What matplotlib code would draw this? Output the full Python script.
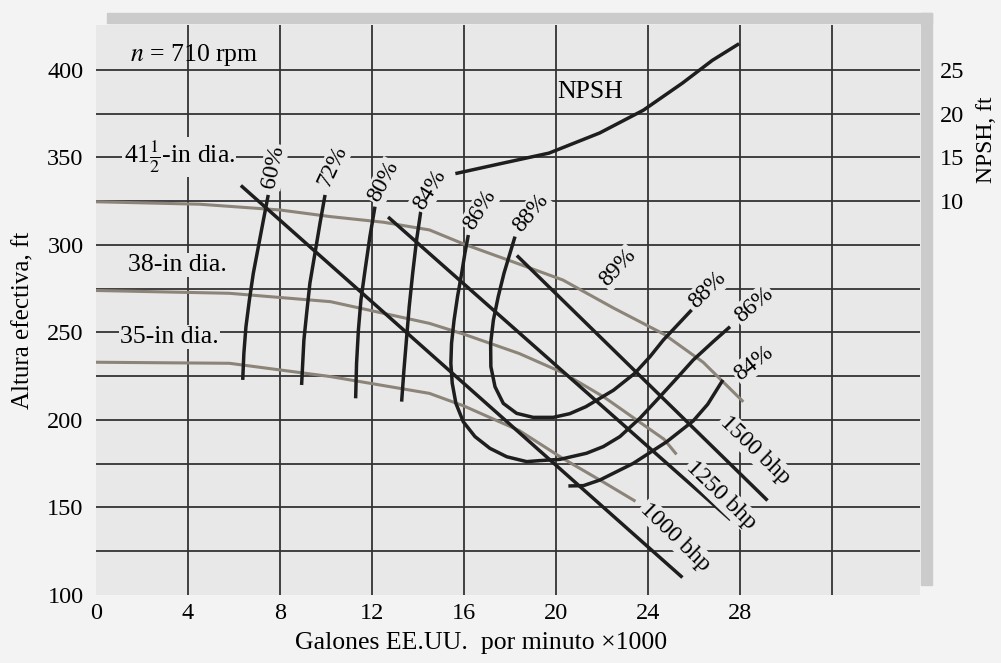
import matplotlib.pyplot as plt
from matplotlib.patches import Rectangle

plt.rcParams['font.family'] = ['Liberation Serif', 'DejaVu Serif']
plt.rcParams['mathtext.fontset'] = 'stix'

# flow in 1000 gal/min, head in ft
# head curves for the three impeller diameters
q_d415 = [0, 4.5, 8, 10.2, 12.5, 14.5, 16, 18, 20.3, 22.5, 24.7, 26.4, 28.1]
h_d415 = [324.7, 323.3, 320, 316.2, 313, 308.6, 300.5, 291, 280, 264, 249, 233, 211]
q_d38 = [0, 5.8, 10.2, 14.5, 16, 18.4, 20.3, 22.1, 24.7, 25.2]
h_d38 = [274, 272.4, 267.6, 255.2, 249, 238, 227, 213, 189, 181]
q_d35 = [0, 5.8, 10.2, 14.5, 16, 18.4, 20.3, 22.0, 23.4]
h_d35 = [233, 232.4, 224.8, 215.2, 208, 194, 178, 165, 154]

# efficiency contours
q_e60 = [7.49, 7.28, 7.06, 6.84, 6.67, 6.52, 6.43, 6.38]
h_e60 = [328.6, 314.3, 299.0, 283.8, 268.6, 253.3, 238.1, 222.9]
q_e72 = [9.96, 9.74, 9.52, 9.30, 9.16, 9.04, 8.94]
h_e72 = [328.6, 312.4, 295.2, 278.1, 261.0, 245.7, 220.0]
q_e80 = [12.13, 11.91, 11.70, 11.52, 11.41, 11.33, 11.29]
h_e80 = [321.9, 304.8, 285.7, 268.6, 251.4, 232.4, 212.4]
q_e84a = [14.12, 13.94, 13.77, 13.62, 13.51, 13.39, 13.29]
h_e84a = [319.0, 302.9, 283.8, 264.8, 247.6, 228.6, 210.5]
q_e84b = [20.54, 21.2, 21.91, 23.36, 24.81, 25.97, 26.6, 27.26]
h_e84b = [162.3, 162.5, 165.7, 175.2, 187.5, 199.5, 209.0, 222.9]
q_e86 = [16.19, 16.04, 15.90, 15.72, 15.57, 15.46, 15.43, 15.49, 15.65, 15.97, 16.48, 17.13,
         17.86, 18.73, 19.30, 20.17, 21.33, 22.06, 22.78, 23.65, 24.52, 25.25, 25.97, 26.84, 27.57]
h_e86 = [305.7, 295.2, 283.8, 270.5, 257.1, 243.8, 232.4, 221.0, 209.5, 199.0, 190.5, 183.8,
         179.0, 176.2, 176.8, 177.5, 181.0, 184.8, 190.5, 201.0, 213.3, 223.8, 234.3, 244.8, 253.3]
q_e88 = [18.22, 18.0, 17.74, 17.49, 17.28, 17.16, 17.17, 17.35, 17.71, 18.29, 19.01, 19.88,
         20.6, 21.3, 22.5, 23.43, 24.09, 24.67, 25.9]
h_e88 = [304.8, 295.2, 283.8, 270.5, 257.1, 243.8, 230.5, 219.0, 209.5, 203.8, 201.5, 201.5,
         203.6, 207.6, 217.0, 226.7, 236.2, 245.7, 262.9]

# brake horsepower lines
q_bhp1000 = [6.3, 25.5]
h_bhp1000 = [334, 110]
q_bhp1250 = [12.7, 27.6]
h_bhp1250 = [316, 143]
q_bhp1500 = [18.3, 29.2]
h_bhp1500 = [294, 154]

# NPSH curve (right axis, ft)
q_npsh = [15.7, 17.6, 19.7, 21.9, 23.8, 25.5, 26.8, 27.9]
npsh = [13.2, 14.3, 15.5, 17.8, 20.4, 23.5, 26.1, 27.9]

x_ticks = [0, 4, 8, 12, 16, 20, 24, 28]
y_ticks = [100, 150, 200, 250, 300, 350, 400]
npsh_ticks = [10, 15, 20, 25]
x_grid = [4, 8, 12, 16, 20, 24, 28, 32]
y_grid = [125, 150, 175, 200, 225, 250, 275, 300, 325, 350, 375, 400]

bg = '#e8e8e8'
ink = '#1e1e1e'
grey = '#8c8479'

fig = plt.figure(figsize=(10.01, 6.63), dpi=100, facecolor='#f3f3f3')
ax = fig.add_axes([96/1001, 1 - 595/663, (920 - 96)/1001, (595 - 25)/663])
ax.set_facecolor(bg)
ax.set_xlim(0, 35.83)
ax.set_ylim(100, 425.7)

for q in x_grid:
    ax.axvline(q, color='#333333', lw=1.3, zorder=1)
for h in y_grid:
    ax.axhline(h, color='#333333', lw=1.3, zorder=1)

for s in ax.spines.values():
    s.set_visible(False)
ax.set_xticks(x_ticks)
ax.set_yticks(y_ticks)
ax.tick_params(length=0, labelsize=17.5)
ax.tick_params(axis='y', pad=9)
ax.tick_params(axis='x', pad=6)

# head curves
for q, h in [(q_d415, h_d415), (q_d38, h_d38), (q_d35, h_d35)]:
    ax.plot(q, h, color=grey, lw=2.2, zorder=2, solid_joinstyle='round')

# efficiency and bhp
for q, h in [(q_e60, h_e60), (q_e72, h_e72), (q_e80, h_e80), (q_e84a, h_e84a),
             (q_e84b, h_e84b), (q_e86, h_e86), (q_e88, h_e88),
             (q_bhp1000, h_bhp1000), (q_bhp1250, h_bhp1250), (q_bhp1500, h_bhp1500)]:
    ax.plot(q, h, color=ink, lw=2.5, zorder=3, solid_capstyle='butt',
            solid_joinstyle='round')

box = dict(facecolor=bg, edgecolor='none', pad=1.0)
fs = 18.5

ax.text(1.48, 408.6, r'$n$ = 710 rpm', fontsize=fs, va='center', ha='left', zorder=5)
ax.text(1.2, 350.3, r'41$\frac{1}{2}$-in dia.', fontsize=fs, va='center', ha='left', bbox=box, zorder=5)
ax.text(1.4, 288.6, '38-in dia.', fontsize=fs, va='center', ha='left', bbox=box, zorder=5)
ax.text(1.05, 247.4, '35-in dia.', fontsize=fs, va='center', ha='left', bbox=box, zorder=5)
ax.text(21.5, 387.4, 'NPSH', fontsize=fs, va='center', ha='center', zorder=5)

eff_labels = [
    ('60%', 7.71, 344.8, 78), ('72%', 10.3, 344.8, 65), ('80%', 12.5, 336.2, 62),
    ('84%', 14.5, 331.4, 58), ('86%', 16.7, 320.0, 58), ('88%', 18.9, 318.1, 50),
    ('89%', 22.7, 287.0, 47), ('88%', 26.6, 274.3, 45), ('86%', 28.6, 265.7, 40),
    ('84%', 28.6, 232.4, 38),
]
for t, x, y, r in eff_labels:
    ax.text(x, y, t, fontsize=fs - 1.5, rotation=r, ha='center', va='center',
            rotation_mode='anchor', bbox=box, zorder=5)

bhp_labels = [('1500 bhp', 28.65, 182.9), ('1250 bhp', 27.2, 157.1), ('1000 bhp', 25.2, 133.3)]
for t, x, y in bhp_labels:
    ax.text(x, y, t, fontsize=fs - 1.5, rotation=-44, ha='center', va='center',
            rotation_mode='anchor', bbox=box, zorder=5)

# right axis for NPSH: 10 ft NPSH sits on 325 ft head, 5 ft per 25 ft
ax2 = ax.twinx()
lo, hi = ax.get_ylim()
ax2.set_ylim(10 + (lo - 325) / 5, 10 + (hi - 325) / 5)
ax2.set_yticks(npsh_ticks)
ax2.tick_params(length=0, labelsize=17.5, pad=14)
for s in ax2.spines.values():
    s.set_visible(False)
ax2.plot(q_npsh, npsh, color=ink, lw=2.5, zorder=3, solid_joinstyle='round')

# scanned page border bands
fig.add_artist(Rectangle((107/1001, 1 - 23/663), (932 - 107)/1001, 10/663,
                         transform=fig.transFigure, color='#cbcbcb', zorder=0))
fig.add_artist(Rectangle((921/1001, 1 - 585/663), 11/1001, (585 - 13)/663,
                         transform=fig.transFigure, color='#cbcbcb', zorder=0))

fig.text(481/1001, 1 - 643/663, 'Galones EE.UU.  por minuto ×1000', fontsize=18.5,
         ha='center', va='center')
fig.text(23/1001, 1 - 320/663, 'Altura efectiva, ft', fontsize=18, rotation=90,
         ha='center', va='center')
fig.text(987/1001, 1 - 140/663, 'NPSH, ft', fontsize=17, rotation=90,
         ha='center', va='center')

fig.savefig('out.png', dpi=100, facecolor=fig.get_facecolor())
